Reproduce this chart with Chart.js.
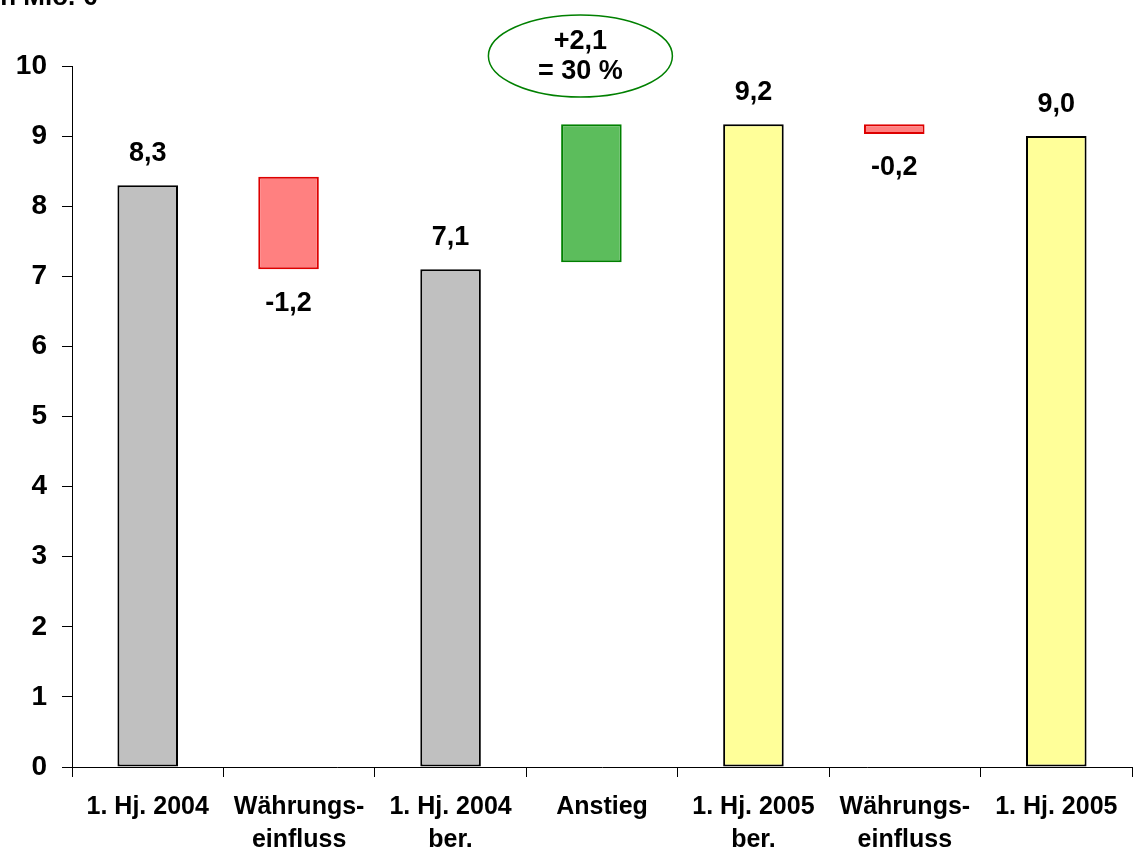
<!DOCTYPE html>
<html>
<head>
<meta charset="utf-8">
<script src="https://cdn.jsdelivr.net/npm/chart.js@4"></script>
<style>
  body { margin: 0; background: #fff; }
  #wrap { position: relative; width: 1138px; height: 851px; }
</style>
</head>
<body>
<div id="wrap"><canvas id="bridgeChart" width="1138" height="851"></canvas></div>
<script>
// Data
const categories = [["1. Hj. 2004"], ["Währungs-", "einfluss"], ["1. Hj. 2004", "ber."], ["Anstieg"], ["1. Hj. 2005", "ber."], ["Währungs-", "einfluss"], ["1. Hj. 2005"]];
const totals = [8.3, null, 7.1, null, 9.17, null, 9.0];
const deltas = [null, [7.1, 8.42], null, [7.2, 9.17], null, [9.03, 9.17], null];
const valueLabels = ["8,3", "-1,2", "7,1", "", "9,2", "-0,2", "9,0"];
const labelBelow = [false, true, false, false, false, true, false];
const yTicks = [0, 1, 2, 3, 4, 5, 6, 7, 8, 9, 10];
const noteLines = ["+2,1", "= 30 %"];

const totalFill = ["#c0c0c0", null, "#c0c0c0", null, "#ffff99", null, "#ffff99"];
const deltaFill = [null, "#ff8080", null, "#5cbd5c", null, "#ff8080", null];
const deltaBorder = [null, "#dd0000", null, "#008000", null, "#dd0000", null];

const FONT = "'Liberation Sans', Arial, sans-serif";

// floating bars sit a little left of the category centre
const shiftDeltas = {
  id: "shiftDeltas",
  afterDatasetsUpdate(chart) {
    const x = chart.scales.x;
    const step = x.getPixelForValue(1) - x.getPixelForValue(0);
    chart.getDatasetMeta(1).data.forEach(el => { el.x -= step * 0.07; });
  }
};

// value labels + ellipse note
const annotations = {
  id: "annotations",
  afterDraw(chart) {
    const c = chart.ctx;
    c.save();
    c.fillStyle = "#000";
    c.textAlign = "center";
    c.textBaseline = "middle";
    c.font = "bold 27px " + FONT;
    valueLabels.forEach((txt, i) => {
      if (!txt) return;
      const ds = totals[i] !== null ? 0 : 1;
      const el = chart.getDatasetMeta(ds).data[i];
      const top = Math.min(el.y, el.base), bottom = Math.max(el.y, el.base);
      const y = labelBelow[i] ? bottom + 34 : top - 32;
      c.fillText(txt, el.x, y);
    });

    // ellipse above the "Anstieg" bar
    const g = chart.getDatasetMeta(1).data[3];
    const cx = g.x - 11;
    const cy = chart.scales.y.getPixelForValue(10) - 10;
    c.beginPath();
    c.ellipse(cx, cy, 92, 41, 0, 0, Math.PI * 2);
    c.strokeStyle = "#008000";
    c.lineWidth = 1.5;
    c.stroke();
    c.fillText(noteLines[0], cx, cy - 14);
    c.fillText(noteLines[1], cx, cy + 16);

    // unit caption, partly cut at the top edge
    c.font = "bold 26px " + FONT;
    c.textAlign = "left";
    c.textBaseline = "alphabetic";
    c.fillText("in Mio. €", -7, 5);
    c.restore();
  }
};

new Chart(document.getElementById("bridgeChart"), {
  type: "bar",
  data: {
    labels: categories,
    datasets: [
      {
        data: totals,
        backgroundColor: totalFill,
        borderColor: "#000",
        borderWidth: 2,
        borderSkipped: false
      },
      {
        data: deltas,
        backgroundColor: deltaFill,
        borderColor: deltaBorder,
        borderWidth: 2,
        borderSkipped: false
      }
    ]
  },
  options: {
    responsive: false,
    animation: false,
    grouped: false,
    barPercentage: 0.4,
    categoryPercentage: 1,
    layout: { padding: { top: 66, right: 6, left: 0, bottom: 0 } },
    plugins: { legend: { display: false }, tooltip: { enabled: false } },
    scales: {
      x: {
        afterFit: s => { s.height = 84; },
        border: { color: "#000", width: 1 },
        grid: { display: true, drawOnChartArea: false, color: "#000", tickLength: 10, offset: true },
        ticks: {
          color: "#000",
          padding: 13,
          maxRotation: 0,
          autoSkip: false,
          font: { family: FONT, size: 25, weight: "bold", lineHeight: 1.34 }
        }
      },
      y: {
        min: 0,
        max: 10,
        afterFit: s => { s.width = 72; },
        afterBuildTicks: s => { s.ticks = yTicks.map(v => ({ value: v })); },
        border: { color: "#000", width: 1 },
        grid: { display: true, drawOnChartArea: false, color: "#000", tickLength: 10 },
        ticks: {
          color: "#000",
          padding: 15,
          font: { family: FONT, size: 28, weight: "bold" }
        }
      }
    }
  },
  plugins: [shiftDeltas, annotations]
});
</script>
</body>
</html>
